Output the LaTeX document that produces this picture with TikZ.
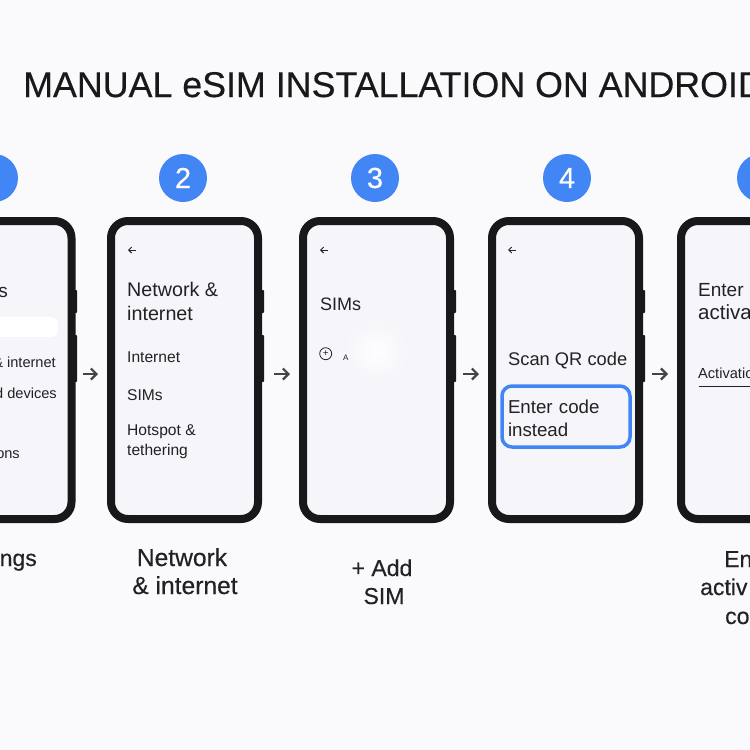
\documentclass[tikz,border=0pt]{standalone}
\usepackage{fontspec}
\setmainfont{Liberation Sans}
\newfontfamily\medfont[FakeBold=0.35]{Liberation Sans}
\usetikzlibrary{arrows.meta}
\definecolor{bgc}{HTML}{FAFAFD}
\definecolor{screenc}{HTML}{F5F5FA}
\definecolor{framec}{HTML}{18181B}
\definecolor{bluec}{HTML}{4285F4}
\definecolor{arrowc}{HTML}{444448}
\definecolor{inkc}{HTML}{222225}
\tikzset{
  x=1pt,y=-1pt,
  phone/.style={draw=framec,fill=screenc,line width=8pt,rounded corners=17pt,minimum width=147pt,minimum height=298pt,inner sep=0pt,outer sep=0pt},
  sidebtn/.style={fill=framec,rounded corners=0.8pt},
  badge/.style={circle,fill=bluec,text=white,minimum size=48pt,inner sep=0pt,font=\medfont\fontsize{29}{29}\selectfont},
  head/.style={anchor=base west,inner sep=0pt,text=inkc,font=\fontsize{19}{19}\selectfont},
  item/.style={anchor=base west,inner sep=0pt,text=inkc,font=\fontsize{15.6}{15.6}\selectfont},
  itemr/.style={anchor=base east,inner sep=0pt,text=inkc,font=\fontsize{14.6}{14.6}\selectfont},
  captext/.style={anchor=base,inner sep=0pt,text=inkc,font=\medfont\fontsize{23}{23}\selectfont},
  capwide/.style={captext,font=\medfont\fontsize{24.6}{24.6}\selectfont},
  stepflow/.style={draw=arrowc,line width=2.2pt,-{Straight Barb[length=5.5pt,width=11pt]},shorten >=13pt},
  backicon/.style={draw=inkc,line width=0.9pt,-{Straight Barb[length=3pt,width=6pt]}},
}
\begin{document}
\begin{tikzpicture}
\useasboundingbox (0,0) rectangle (750,750);
\clip (0,0) rectangle (750,750);
\fill[bgc] (0,0) rectangle (750,750);

\node[anchor=base west,inner sep=0pt,text=black!90,font=\medfont\fontsize{35.8}{35.8}\selectfont] (title) at (23,97) {MANUAL eSIM INSTALLATION ON ANDROID};

% side buttons
\foreach \x in {75,262,454,643}{
  \fill[sidebtn] (\x-1,290) rectangle (\x+2,313);
  \fill[sidebtn] (\x-1,335) rectangle (\x+2,382);
}

% phones
\node[phone] (p1) at (-2,370) {};
\node[phone] (p2) at (184.5,370) {};
\node[phone] (p3) at (376.5,370) {};
\node[phone] (p4) at (565.5,370) {};
\node[phone] (p5) at (754.5,370) {};

% badges
\node[badge] (b1) at (-6,178) {};
\node[badge] (b2) at (183,178) {2};
\node[badge] (b3) at (375,178) {3};
\node[badge] (b4) at (567,178) {4};
\node[badge] (b5) at (761,178) {};

% flow arrows
\draw[stepflow,shorten <=11pt] ([yshift=-4pt]p1.east) -- ([yshift=-4pt]p2.west);
\draw[stepflow,shorten <=16pt] ([yshift=-4pt]p2.east) -- ([yshift=-4pt]p3.west);
\draw[stepflow,shorten <=13pt] ([yshift=-4pt]p3.east) -- ([yshift=-4pt]p4.west);
\draw[stepflow,shorten <=13pt] ([yshift=-4pt]p4.east) -- ([yshift=-4pt]p5.west);

% phone 1
\fill[white,rounded corners=7pt] (-20,317) rectangle (58,337);
\node[anchor=base east,inner sep=0pt,text=inkc,font=\fontsize{19}{19}\selectfont] (t1a) at (8,297) {s};
\node[itemr] (t1b) at (56,367) {\& internet};
\node[itemr] (t1c) at (57,398) {d devices};
\node[itemr] (t1d) at (20,458) {ons};

% phone 2
\coordinate (bk2a) at (136,250); \coordinate (bk2b) at (128,250);
\draw[backicon] (bk2a) -- (bk2b);
\node[head,font=\fontsize{19.7}{19.7}\selectfont] (t2a) at (127,296) {Network \&};
\node[head,font=\fontsize{19.7}{19.7}\selectfont] (t2b) at (127,320) {internet};
\node[item] (t2c) at (127,362) {Internet};
\node[item] (t2d) at (127,400) {SIMs};
\node[item] (t2e) at (127,435) {Hotspot \&};
\node[item] (t2f) at (127,455) {tethering};

% phone 3
\shade[inner color=white!85!screenc,outer color=screenc] (376,351) circle (34);
\coordinate (bk3a) at (328,250); \coordinate (bk3b) at (320,250);
\draw[backicon] (bk3a) -- (bk3b);
\node[head,font=\fontsize{18}{18}\selectfont] (t3a) at (320,310.5) {SIMs};
\node[circle,draw=inkc,line width=0.8pt,minimum size=12pt,inner sep=0pt,font=\fontsize{10}{10}\selectfont,text=inkc] (t3b) at (325.7,353.7) {+};
\node[anchor=base west,inner sep=0pt,text=inkc,font=\fontsize{8}{8}\selectfont] (t3c) at (343,360) {A};

% phone 4
\coordinate (bk4a) at (516,250); \coordinate (bk4b) at (508,250);
\draw[backicon] (bk4a) -- (bk4b);
\node[head,font=\fontsize{18.3}{18.3}\selectfont] (t4a) at (508,365) {Scan QR code};
\node[draw=bluec,line width=3.5pt,rounded corners=10pt,minimum width=128pt,minimum height=61pt,inner sep=0pt,inner xsep=6pt,align=left,text width=116pt,text=inkc,font=\fontsize{18.7}{23}\selectfont] (t4b) at (566,416.5) {\rule{0pt}{17pt}Enter code\\instead};

% phone 5
\node[head] (t5a) at (698,296) {Enter};
\node[head,font=\fontsize{20.5}{20.5}\selectfont] (t5b) at (698,319) {activation};
\node[anchor=base west,inner sep=0pt,text=inkc,font=\fontsize{14.6}{14.6}\selectfont] (t5c) at (698,378) {Activation};
\coordinate (u5a) at (699,386.5); \coordinate (u5b) at (750,386.5);
\draw[inkc,line width=1pt] (u5a) -- (u5b);

% captions
\node[captext,anchor=base east] (c1) at (37,566) {ngs};
\node[capwide] (c2a) at (182,566) {Network};
\node[capwide] (c2b) at (185,594) {\& internet};
\node[captext] (c3a) at (382,576) {+ Add};
\node[captext] (c3b) at (384,604) {SIM};
\node[captext,anchor=base west] (c5a) at (724,567) {En};
\node[captext,anchor=base west] (c5b) at (700,595) {activ};
\node[captext,anchor=base west] (c5c) at (725,624) {co};
\end{tikzpicture}
\end{document}
